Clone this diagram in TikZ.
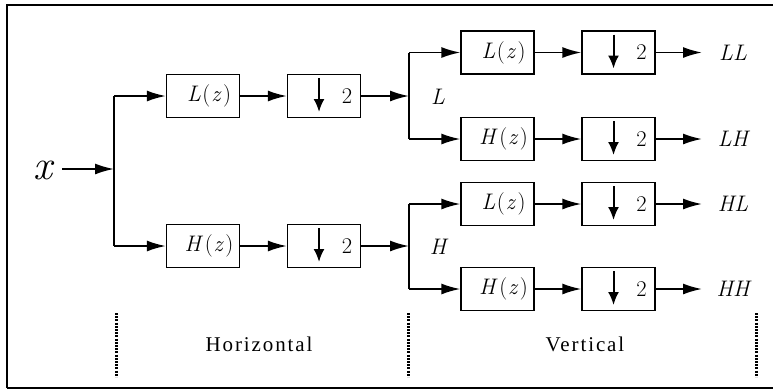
\documentclass[tikz,border=0pt]{standalone}
\usepackage{fontspec}
\newfontfamily\labelfont[LetterSpace=9]{Liberation Serif}
\usetikzlibrary{arrows.meta}
\tikzset{
  filt/.style={draw, line width=1.3pt, minimum width=73pt, minimum height=43pt, inner sep=0pt, font=\fontsize{22.5}{26}\selectfont},
  dsbox/.style={draw, line width=1.3pt, minimum width=73pt, minimum height=43pt, inner sep=0pt},
  conn/.style={line width=1.8pt, -{Latex[length=19pt,width=11pt]}},
  wire/.style={line width=1.8pt},
  dnarrow/.style={line width=2pt, -{Latex[length=13pt,width=11pt]}},
  txt/.style={font=\fontsize{22.5}{26}\selectfont, inner sep=0pt},
  bigtxt/.style={font=\fontsize{42}{46}\selectfont\itshape, inner sep=0pt},
  lab/.style={font=\labelfont\fontsize{21}{25}\selectfont, inner sep=0pt},
  dots/.style={line width=3pt, dash pattern=on 2pt off 1.2pt}
}
\newcommand{\dsym}[1]{%
  \draw[dnarrow] ([xshift=-5pt,yshift=18pt]#1.center) -- ([xshift=-5pt,yshift=-16pt]#1.center);
  \node[txt] at ([xshift=23pt]#1.center) {2};}
\newcommand{\fz}[1]{\hspace*{12pt}\textit{#1}\kern1.5pt(\kern1pt\textit{z}\kern1.5pt)}
\begin{document}
\begin{tikzpicture}[x=1pt,y=-1pt]
\useasboundingbox (0,0) rectangle (773,389);
\draw[line width=1.6pt] (7,388) -- (7,5) -- (780,5);
\draw[line width=1.6pt] (7,388) -- (780,388);
% input
\node[bigtxt] (x) at (43,170) {x};
\coordinate (xs) at (62,169);
\coordinate (j1) at (114,169);
\coordinate (j1t) at (114,96);
\coordinate (j1b) at (114,246);
\draw[conn] (xs) -- (j1);
\draw[wire] (j1t) -- (j1b);
% level 1
\node[filt] (L1) at (203,96) {\fz{L}};
\node[dsbox] (D1) at (324,96) {};
\node[filt] (H1) at (203,246) {\fz{H}};
\node[dsbox] (D2) at (324,246) {};
\dsym{D1}
\dsym{D2}
\draw[conn] (j1t) -- (L1);
\draw[conn] (j1b) -- (H1);
\draw[conn] (L1) -- (D1);
\draw[conn] (H1) -- (D2);
\coordinate (j2) at (409,96);
\coordinate (j3) at (409,246);
\draw[conn] (D1) -- (j2);
\draw[conn] (D2) -- (j3);
\node[txt] (Ll) at (438,97) {\itshape L};
\node[txt] (Hl) at (438,247) {\itshape H};
% level 2
\coordinate (a1) at (409,52.5);
\coordinate (a2) at (409,139);
\coordinate (a3) at (409,204);
\coordinate (a4) at (409,289);
\draw[wire] (a1) -- (a2);
\draw[wire] (a3) -- (a4);
\foreach \i/\y/\f/\o in {1/52.5/L/LL, 2/139/H/LH, 3/204/L/HL, 4/289/H/HH}{
  \node[filt] (F\i) at (497.5,\y) {\fz{\f}};
  \node[dsbox] (E\i) at (618.5,\y) {};
  \dsym{E\i}
  \node[txt] (O\i) at (733,\y) {\itshape\o};
  \coordinate (t\i) at (702,\y);
  \draw[conn] (a\i) -- (F\i);
  \draw[conn] (F\i) -- (E\i);
  \draw[conn] (E\i) -- (t\i);
}
% bottom labels
\draw[dots] (116,313) -- (116,377);
\draw[dots] (408,313) -- (408,377);
\draw[dots] (756,313) -- (756,377);
\node[lab] (hz) at (259,344) {Horizontal};
\node[lab] (vt) at (585,344) {Vertical};
\end{tikzpicture}
\end{document}
